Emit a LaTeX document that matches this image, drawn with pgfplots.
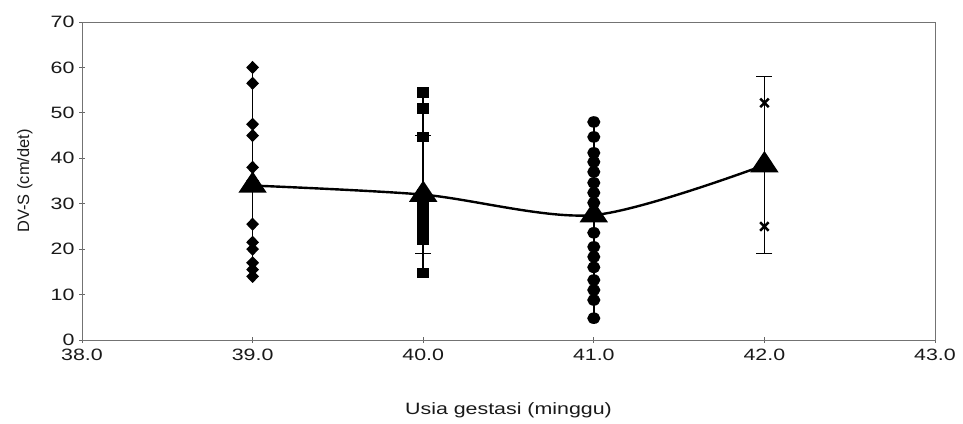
\documentclass[border=0pt]{standalone}
\usepackage{pgfplots}
\pgfplotsset{compat=1.18}
\usepackage{fontspec}
\setmainfont[FakeStretch=1.3]{Liberation Sans}
\newfontfamily\ylabfont{Liberation Sans}
\begin{document}
\begin{tikzpicture}
\useasboundingbox (0,0) rectangle (963bp,424bp);
\begin{axis}[
  at={(82bp,84bp)}, anchor=south west,
  scale only axis, width=853bp, height=318bp,
  xmin=38, xmax=43, ymin=0, ymax=70,
  xtick={38,39,40,41,42,43},
  ytick={0,10,20,30,40,50,60,70},
  xticklabel={\pgfmathprintnumber[fixed,fixed zerofill,precision=1]{\tick}},
  /pgf/number format/assume math mode=true,
  tick label style={font=\fontsize{16.5}{18}\selectfont, text=black!90},
  xticklabel style={yshift=-3bp},
  yticklabel style={xshift=-1bp},
  xtick pos=bottom, ytick pos=left,
  tick align=center, major tick length=6bp,
  every tick/.style={black!60, line width=0.8bp},
  axis line style={black!55, line width=0.8bp},
  xlabel={Usia gestasi (minggu)},
  ylabel={\ylabfont DV-S (cm/det)},
  label style={font=\fontsize{16.5}{18}\selectfont, text=black!90},
  xlabel style={at={(axis description cs:0.5,0)}, anchor=center, yshift=-70bp},
  ylabel style={at={(axis description cs:-0.067,0.5)}, anchor=center},
  clip=false,
]
% gestational age 39 (diamonds)
\addplot[black, line width=1.5bp, mark=diamond*, mark size=5.5bp, mark options={solid, xscale=1.3}] coordinates {
 (39,60) (39,56.5) (39,47.5) (39,45) (39,38) (39,35) (39,25.5) (39,21.5) (39,20) (39,17) (39,15.5) (39,14)};
% 40 (squares)
\addplot[black, line width=1.5bp, mark=square*, mark size=4.5bp, mark options={xscale=1.15}] coordinates {
 (40,54.5) (40,51) (40,44.7) (40,32) (40,30) (40,28) (40,26) (40,24) (40,22) (40,14.8)};
% 41 (circles)
\addplot[black, line width=1.5bp, mark=*, mark size=5bp, mark options={xscale=1.15}] coordinates {
 (41,48) (41,44.7) (41,41.2) (41,39.2) (41,37) (41,34.6) (41,32.4) (41,30.2) (41,28) (41,23.6) (41,20.5) (41,18.3) (41,16) (41,13.2) (41,11) (41,8.8) (41,4.8)};
% 42 (crosses)
\addplot[black, only marks, mark=x, mark size=6bp, mark options={line width=2.5bp}] coordinates {
 (42,52.2) (42,25)};
% mean with SD error bars
\addplot[black, line width=2.4bp, smooth, mark=triangle*, mark size=12bp, mark options={xscale=1.15},
  error bars/.cd, y dir=both, y explicit,
  error bar style={line width=1.5bp, black},
  error mark options={rotate=90, mark size=8bp, line width=1.5bp, black}]
 coordinates {
 (39,34) +- (0,0)
 (40,32) +- (0,13)
 (41,27.5) +- (0,0)
 (42,38.5) +- (0,19.5)};
\end{axis}
\end{tikzpicture}
\end{document}
